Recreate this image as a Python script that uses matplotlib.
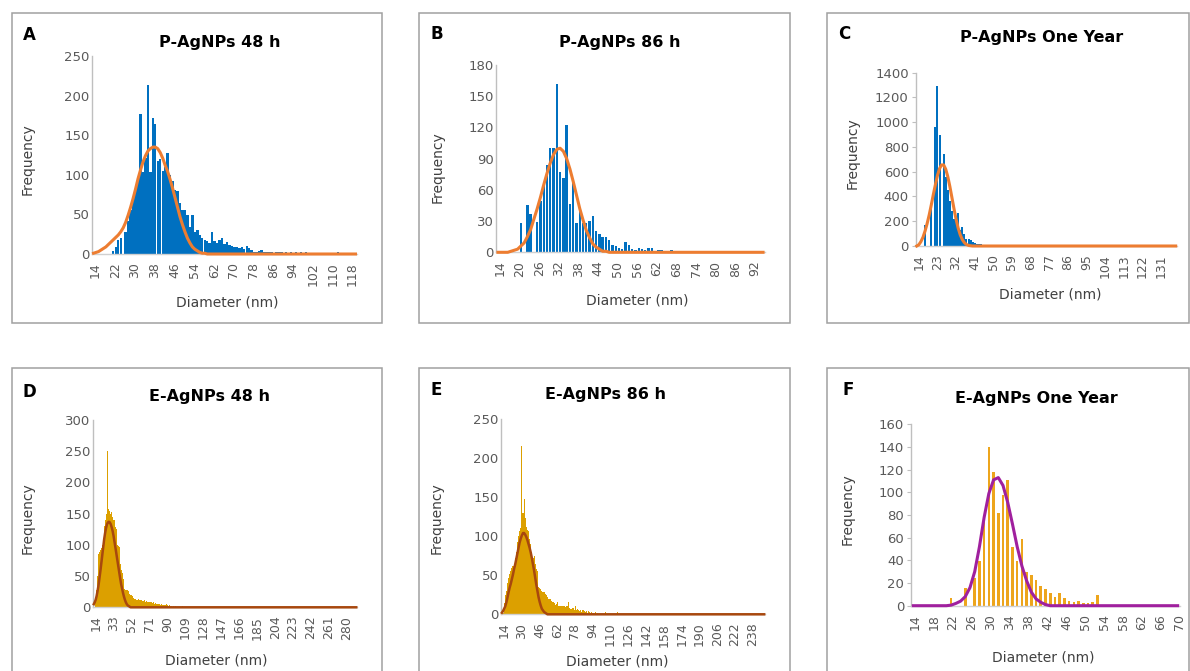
import numpy as np
import matplotlib
matplotlib.use("Agg")
import matplotlib.pyplot as plt
from matplotlib.patches import Rectangle
from matplotlib.transforms import ScaledTranslation

plt.rcParams['font.family'] = ['DejaVu Sans']

W, H, DPI = 1190, 671, 100

# ---------------- data (bin = 1 nm, categories start at 14 nm) ----------------
A_title = "P-AgNPs 48 h"
A_first, A_last = 14, 120
A_counts = [0, 0, 0, 0, 0, 0, 0, 0, 4, 9, 18, 20, 0, 28, 42, 55, 70, 82, 95, 177,
            104, 121, 213, 104, 172, 164, 118, 120, 105, 110, 127, 100, 92, 81, 80, 64,
            55, 55, 49, 34, 49, 28, 30, 24, 20, 18, 16, 14, 28, 16, 14, 18, 20, 12, 15,
            11, 10, 9, 9, 7, 9, 6, 10, 7, 5, 3, 3, 4, 5, 2, 3, 2, 3, 1, 3, 2, 3, 1, 2,
            1, 2, 1, 2, 1, 2, 1, 2, 0, 1, 1, 0, 1, 0, 0, 0, 1, 0, 0, 0, 3]
A_fit_first = 14
A_fit = [1, 2, 3, 5, 7, 9, 12, 15, 18, 21, 24, 28, 33, 40, 49, 59, 70, 82, 95, 106,
         116, 124, 130, 133, 135, 135, 133, 128, 121, 112, 104, 94, 83, 71, 59, 47,
         37, 28, 20, 14, 9, 6, 4, 2, 1, 1]
A_xticks = [14, 22, 30, 38, 46, 54, 62, 70, 78, 86, 94, 102, 110, 118]
A_yticks = [0, 50, 100, 150, 200, 250]

B_title = "P-AgNPs 86 h"
B_first, B_last = 14, 95
B_counts = [0, 0, 0, 0, 0, 0, 0, 28, 0, 45, 37, 0, 29, 49, 65, 84, 100, 100, 162,
            77, 71, 122, 46, 67, 28, 41, 28, 28, 30, 35, 20, 18, 15, 15, 12, 7, 6, 4,
            3, 10, 7, 3, 2, 4, 3, 2, 4, 4, 1, 2, 2, 0, 1, 2]
B_fit_first = 14
B_fit = [0, 0, 0, 0, 1, 2, 3, 6, 9, 15, 22, 32, 42, 53, 65, 76, 86, 94, 99, 100,
         97, 90, 80, 68, 55, 42, 31, 21, 14, 8, 5, 3, 1, 1]
B_xticks = [14, 20, 26, 32, 38, 44, 50, 56, 62, 68, 74, 80, 86, 92]
B_yticks = [0, 30, 60, 90, 120, 150, 180]

C_title = "P-AgNPs One Year"
C_first, C_last = 14, 139
C_counts = [0, 0, 0, 0, 170, 0, 0, 345, 0, 965, 1290, 900, 0, 745, 560, 450, 360,
            280, 220, 225, 265, 130, 150, 95, 55, 60, 45, 35, 25, 20, 18, 15, 12, 12,
            12, 11, 12, 10, 10, 10, 11, 10, 9, 8, 9, 10, 8, 6, 5, 4, 3, 8, 2, 1, 8, 1,
            2, 6, 1, 0, 1, 0, 6, 0, 0, 0, 0, 6, 0, 0, 0, 0, 6, 0, 0, 0, 0, 0, 5, 0, 0,
            0, 0, 0, 0, 0, 8]
C_fit_first = 14
C_fit = [0, 10, 35, 70, 120, 180, 250, 330, 415, 495, 570, 625, 655, 655, 620, 560,
         480, 390, 300, 215, 145, 90, 52, 27, 12, 5, 2]
C_xticks = [14, 23, 32, 41, 50, 59, 68, 77, 86, 95, 104, 113, 122, 131]
C_yticks = [0, 200, 400, 600, 800, 1000, 1200, 1400]

D_title = "E-AgNPs 48 h"
D_first, D_last = 14, 292
D_counts = [0, 0, 10, 28, 50, 86, 88, 92, 95, 100, 105, 130, 140, 150, 145, 251,
            157, 155, 150, 152, 145, 140, 140, 128, 125, 100, 98, 97, 70, 60, 55, 45,
            32, 30, 28, 28, 27, 26, 22, 20, 19, 18, 15, 14, 13, 12, 12, 13, 12, 11, 12,
            11, 10, 10, 11, 9, 10, 9, 8, 9, 8, 9, 7, 8, 6, 7, 6, 5, 6, 5, 5, 4, 6, 4,
            3, 4, 3, 5, 3, 2, 3, 2, 2, 1, 2, 1, 1, 2, 0, 1, 1, 0, 0, 1, 2, 0, 1]
D_fit_first = 14
D_fit = [5, 8, 12, 18, 26, 35, 46, 58, 71, 84, 97, 109, 119, 127, 133, 136, 137, 136,
         133, 128, 122, 114, 105, 95, 85, 75, 65, 55, 46, 37, 30, 23, 17, 12, 8, 5, 3,
         2, 1]
D_xticks = [14, 33, 52, 71, 90, 109, 128, 147, 166, 185, 204, 223, 242, 261, 280]
D_yticks = [0, 50, 100, 150, 200, 250, 300]

E_title = "E-AgNPs 86 h"
E_first, E_last = 14, 250
E_counts = [0, 2, 15, 25, 30, 40, 46, 52, 55, 59, 62, 65, 72, 80, 93, 100, 106, 110,
            216, 130, 148, 123, 112, 108, 106, 96, 90, 80, 72, 74, 65, 58, 55, 35, 34,
            33, 30, 29, 29, 26, 25, 22, 20, 20, 19, 17, 16, 14, 12, 13, 16, 11, 10, 10,
            11, 10, 10, 9, 10, 11, 16, 8, 7, 7, 8, 6, 10, 5, 7, 5, 4, 5, 3, 5, 4, 3, 4,
            2, 4, 3, 2, 3, 2, 1, 3, 1, 2, 1, 0, 1, 0, 1, 0, 3, 0, 1, 0, 0, 1, 0, 0, 0,
            0, 0, 3]
E_fit_first = 14
E_fit = [2, 4, 7, 10, 15, 21, 28, 34, 39, 45, 51, 58, 64, 71, 78, 85, 92, 97, 101,
         104, 104, 102, 99, 95, 90, 85, 79, 72, 64, 56, 47, 38, 30, 22, 16, 11, 7, 5,
         3, 2, 1]
E_xticks = [14, 30, 46, 62, 78, 94, 110, 126, 142, 158, 174, 190, 206, 222, 238]
E_yticks = [0, 50, 100, 150, 200, 250]

F_title = "E-AgNPs One Year"
F_first, F_last = 14, 70
F_counts = [0, 0, 0, 0, 0, 0, 0, 0, 7, 0, 0, 16, 0, 24, 39, 74, 140, 118, 82, 98,
            111, 52, 39, 59, 30, 27, 23, 17, 15, 11, 8, 11, 7, 4, 3, 4, 2, 2, 3, 9, 1,
            1, 1, 1, 0, 0, 0, 1, 0, 0, 0, 1, 1]
F_fit_first = 21
F_fit = [0, 0.5, 2, 4, 8, 16, 30, 52, 78, 99, 111, 113, 106, 91, 72, 52, 35, 22, 12,
         6, 3, 1]
F_xticks = [14, 18, 22, 26, 30, 34, 38, 42, 46, 50, 54, 58, 62, 66, 70]
F_yticks = [0, 20, 40, 60, 80, 100, 120, 140, 160]

# ---------------- drawing ----------------
fig = plt.figure(figsize=(W / DPI, H / DPI), dpi=DPI)
fig.patch.set_facecolor('white')


def fx(x):
    return x / W


def fy(y):
    return 1 - y / H


def frame(x0, y0, x1, y1):
    fig.add_artist(Rectangle((fx(x0), fy(y1)), fx(x1) - fx(x0), fy(y0) - fy(y1),
                             transform=fig.transFigure, fill=False,
                             edgecolor='#A0A0A0', lw=1.1))


def panel(rect, first, last, counts, fit_first, fit, xticks, yticks,
          bar_color, bar_w, line_color, line_w, yticklen):
    x0, y0, x1, y1 = rect
    ax = fig.add_axes([fx(x0), fy(y1), fx(x1) - fx(x0), fy(y0) - fy(y1)])
    cats = np.arange(first, last + 1)
    c = np.zeros(len(cats))
    c[:len(counts)] = counts
    f = np.zeros(len(cats))
    f[fit_first - first:fit_first - first + len(fit)] = fit
    ax.bar(cats, c, width=bar_w, color=bar_color, linewidth=0, zorder=2)
    ax.plot(cats, f, color=line_color, lw=line_w, zorder=3, clip_on=False,
            solid_joinstyle='round')
    ax.set_xlim(first - 0.5, last + 0.5)
    ax.set_ylim(0, yticks[-1])
    ax.set_yticks(yticks)
    ax.set_xticks(xticks)
    ax.set_xticklabels([str(t) for t in xticks], rotation=90)
    for s in ('top', 'right'):
        ax.spines[s].set_visible(False)
    ax.spines['left'].set_color('#BFBFBF')
    ax.spines['bottom'].set_color('#D0D0D0')
    ax.spines['left'].set_linewidth(1.0)
    ax.spines['bottom'].set_linewidth(1.0)
    ax.tick_params(axis='y', length=yticklen, color='#BFBFBF', labelsize=9.5,
                   labelcolor='#595959', pad=2)
    ax.tick_params(axis='x', length=0, labelsize=9, labelcolor='#595959', pad=6)
    off = ScaledTranslation(2 / DPI, 0, fig.dpi_scale_trans)
    for lab in ax.get_xticklabels():
        lab.set_transform(lab.get_transform() + off)
    ax.set_facecolor('none')
    return ax


BLUE = '#0070C0'
ORANGE = '#ED7D31'
GOLD = '#DCA000'
BROWN = '#A8480E'
GOLD2 = '#EDA51C'
PURPLE = '#A0209E'

frame(11.7, 12.7, 381.7, 323)
frame(419, 12.7, 789.7, 323)
frame(826.7, 12.7, 1188.5, 323)
frame(11.7, 367.7, 381.7, 690)
frame(419, 367.7, 789.7, 690)
frame(826.7, 367.7, 1188.5, 690)

panel((92.3, 56, 356.7, 254), A_first, A_last, A_counts, A_fit_first, A_fit,
      A_xticks, A_yticks, BLUE, 0.96, ORANGE, 2.2, 0)
panel((496.3, 65, 764.7, 252.3), B_first, B_last, B_counts, B_fit_first, B_fit,
      B_xticks, B_yticks, BLUE, 0.72, ORANGE, 2.2, 0)
panel((915.7, 72.7, 1176.7, 246), C_first, C_last, C_counts, C_fit_first, C_fit,
      C_xticks, C_yticks, BLUE, 0.96, ORANGE, 2.2, 3)
panel((93.3, 420, 356.7, 607.3), D_first, D_last, D_counts, D_fit_first, D_fit,
      D_xticks, D_yticks, GOLD, 1.0, BROWN, 1.8, 0)
panel((501.3, 419, 764.7, 614.3), E_first, E_last, E_counts, E_fit_first, E_fit,
      E_xticks, E_yticks, GOLD, 1.0, BROWN, 1.8, 0)
panel((911, 424.3, 1180, 605.7), F_first, F_last, F_counts, F_fit_first, F_fit,
      F_xticks, F_yticks, GOLD2, 0.55, PURPLE, 2.2, 3)

# titles, panel letters, axis labels (positions in pixels)
titles = [(A_title, 219.7, 42), (B_title, 619.7, 42), (C_title, 1041.7, 37.5),
          (D_title, 209.8, 396), (E_title, 605.5, 394), (F_title, 1036.7, 398)]
for t, x, y in titles:
    fig.text(fx(x), fy(y), t, ha='center', va='center', fontsize=11.5,
             fontweight='bold', color='black')

letters = [('A', 23, 40), ('B', 431, 39.3), ('C', 838, 39.3),
           ('D', 23, 396.7), ('E', 431, 395), ('F', 842, 395)]
for t, x, y in letters:
    fig.text(fx(x), fy(y), t, ha='left', va='baseline', fontsize=12,
             fontweight='bold', color='black')

ylabels = [(27.5, 159), (438, 166.7), (852.7, 153.3), (27.8, 518), (437, 518),
           (848, 509)]
for x, y in ylabels:
    fig.text(fx(x), fy(y), 'Frequency', ha='center', va='center', rotation=90,
             fontsize=10, color='#404040')

xlabels = [(227.5, 303), (637, 301), (1050, 295), (216, 660), (617, 661.7),
           (1043, 657.5)]
for x, y in xlabels:
    fig.text(fx(x), fy(y), 'Diameter (nm)', ha='center', va='center',
             fontsize=10, color='#404040')

fig.savefig('out.png', dpi=DPI, facecolor='white')
